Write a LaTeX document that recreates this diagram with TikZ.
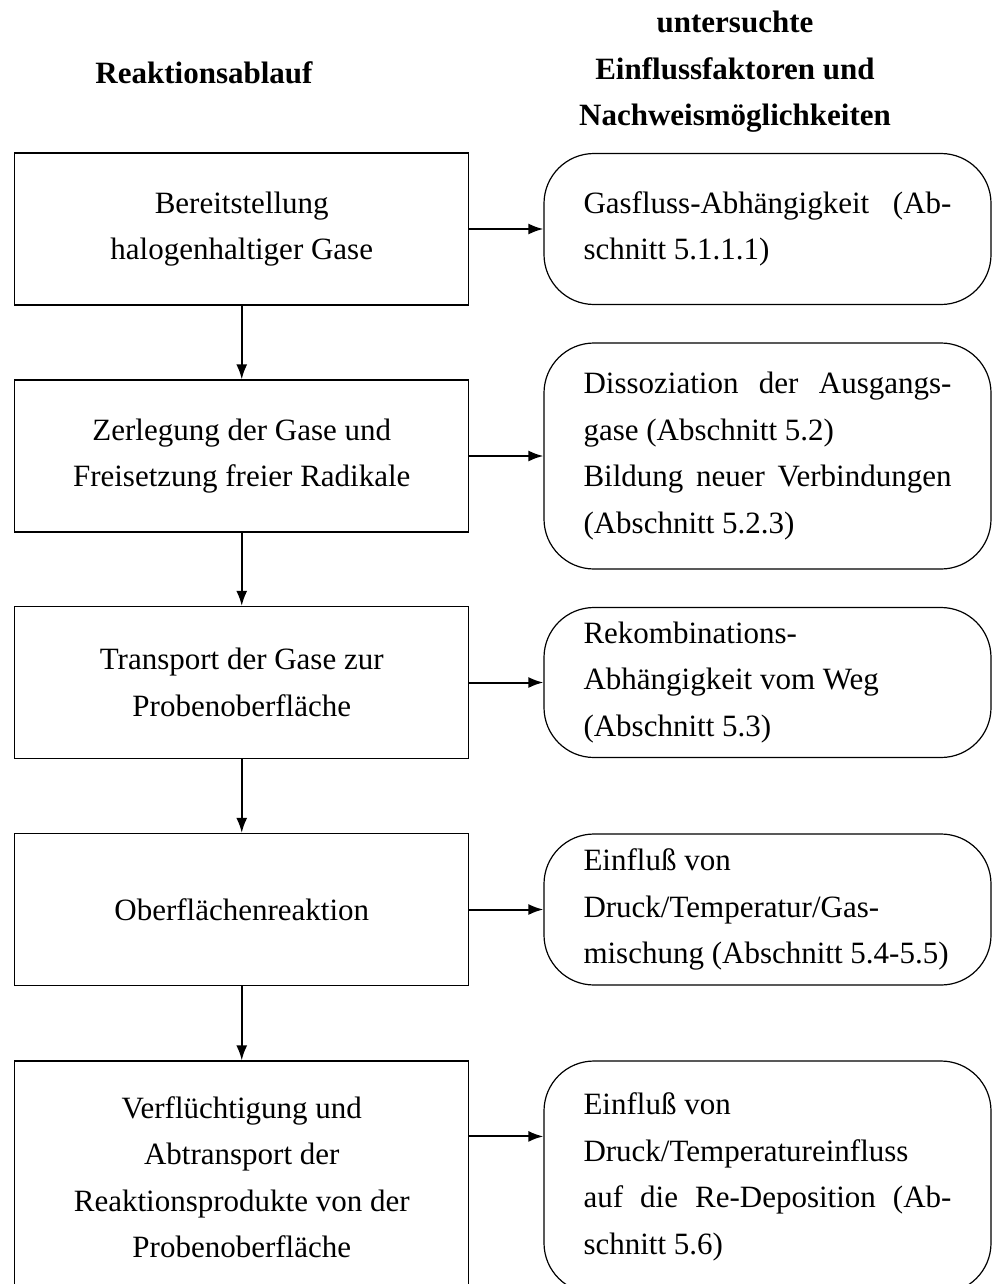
\documentclass[tikz,border=0pt]{standalone}
\usepackage{fontspec}
\setmainfont{Liberation Serif}
\usepackage{tikz}
\usetikzlibrary{arrows.meta}
\newcommand{\schrift}{\fontsize{15.5pt}{23.25pt}\selectfont}
\tikzset{
  ablauf/.style={draw,line width=0.6pt,minimum width=227pt,minimum height=76pt,
                 align=center,inner sep=2pt,font=\schrift},
  faktor/.style={draw,line width=0.6pt,rounded corners=25pt,text width=184pt,
                 inner xsep=19.75pt,inner ysep=0pt,align=justify,font=\schrift},
  kopf/.style={align=center,font=\schrift\bfseries},
  pfeil/.style={-{Latex[length=7.5pt,width=5.5pt]},line width=1pt}
}

\begin{document}
\begin{tikzpicture}[x=0.5pt,y=-0.5pt]
                \useasboundingbox (0,0) rectangle (992,1284);
                % Kopfzeile
                \node[kopf] (kopfablauf) at (204,73) {Reaktionsablauf};
                \node[kopf] (kopffaktor) at (735,72) {untersuchte\\ Einflussfaktoren und\\ Nachweismöglichkeiten};
                % Reaktionsablauf
                \node[ablauf] (bereit) at (241.75,229) {Bereitstellung\\ halogenhaltiger Gase};
                \node[ablauf] (zerleg) at (241.75,456) {Zerlegung der Gase und\\ Freisetzung freier Radikale};
                \node[ablauf] (transport) at (241.75,682.5) {Transport der Gase zur\\ Probenoberfläche};
                \node[ablauf] (oberfl) at (241.75,909.5) {Oberflächenreaktion};
                \node[ablauf,minimum height=116pt] (abtrans) at (241.75,1177) {Verflüchtigung und\\ Abtransport der\\ Reaktionsprodukte von der\\ Probenoberfläche};
                % Einflussfaktoren
                \node[faktor,minimum height=75.5pt] (gasfluss) at (767.5,229) {Gasfluss-Abhängigkeit (Ab-\linebreak schnitt 5.1.1.1)};
                \node[faktor,minimum height=113pt] (dissoz) at (767.5,456) {Dissoziation der Ausgangs-\linebreak gase (Abschnitt 5.2)\\ Bildung neuer Verbindungen\linebreak (Abschnitt 5.2.3)};
                \node[faktor,minimum height=75pt] (rekomb) at (767.5,682.5) {Rekombinations-\\ Abhängigkeit vom Weg\\ (Abschnitt 5.3)};
                \node[faktor,minimum height=75.5pt] (druckgas) at (767.5,909.5) {Einfluß von\\ Druck/Temperatur/Gas-\\ mischung (Abschnitt 5.4-5.5)};
                \node[faktor,minimum height=116pt] (redep) at (767.5,1177) {Einfluß von\\ Druck/Temperatureinfluss\\ auf die Re-Deposition (Ab-\linebreak schnitt 5.6)};
                % Pfeile
                \draw[pfeil] (bereit) -- (zerleg);
                \draw[pfeil] (zerleg) -- (transport);
                \draw[pfeil] (transport) -- (oberfl);
                \draw[pfeil] (oberfl) -- (abtrans);
                \draw[pfeil] (bereit) -- (gasfluss);
                \draw[pfeil] (zerleg) -- (dissoz);
                \draw[pfeil] (transport) -- (rekomb);
                \draw[pfeil] (oberfl) -- (druckgas);
                \draw[pfeil] ([yshift=-38pt]abtrans.north east) -- ([yshift=-38pt]redep.north west);
            \end{tikzpicture}
\end{document}
